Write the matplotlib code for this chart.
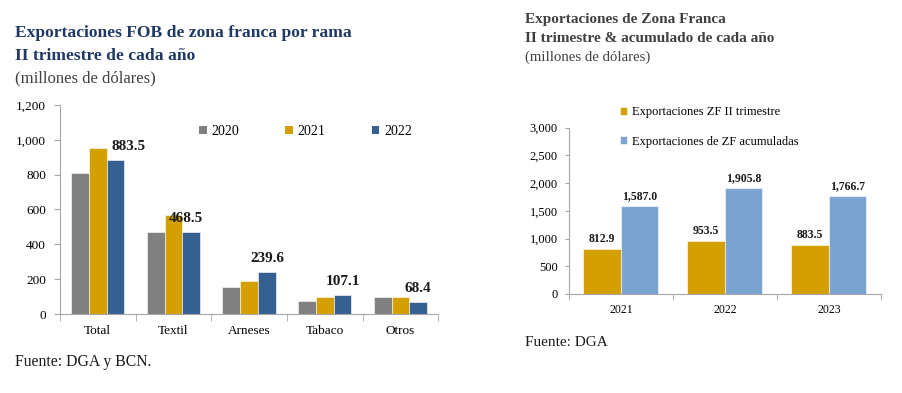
import matplotlib
matplotlib.use("Agg")
import matplotlib.pyplot as plt
import numpy as np
from matplotlib.patches import Patch

plt.rcParams['font.family'] = ['Liberation Serif', 'DejaVu Serif']

# Left chart data
ramas = ["Total", "Textil", "Arneses", "Tabaco", "Otros"]
years_left = ["2020", "2021", "2022"]
v2020 = [811.0, 468.0, 157.5, 77.0, 96.0]
v2021 = [953.5, 567.0, 190.0, 96.0, 96.0]
v2022 = [883.5, 468.5, 239.6, 107.1, 68.4]
labels_2022 = ["883.5", "468.5", "239.6", "107.1", "68.4"]
left_yticks = [0, 200, 400, 600, 800, 1000, 1200]
left_yticklabels = ["0", "200", "400", "600", "800", "1,000", "1,200"]

# Right chart data
years_right = ["2021", "2022", "2023"]
trimestre = [812.9, 953.5, 883.5]
acumulado = [1587.0, 1905.8, 1766.7]
trim_labels = ["812.9", "953.5", "883.5"]
acum_labels = ["1,587.0", "1,905.8", "1,766.7"]
right_yticks = [0, 500, 1000, 1500, 2000, 2500, 3000]
right_yticklabels = ["0", "500", "1,000", "1,500", "2,000", "2,500", "3,000"]

GRAY = "#808080"
GOLD = "#D4A000"
BLUE = "#376092"
LBLUE = "#7DA3D0"
AXC = "#A6A6A6"

fig = plt.figure(figsize=(9.03, 3.93), dpi=100)

# ---------- Left chart ----------
ax1 = fig.add_axes([0.0664, 0.201, 0.419, 0.532])
x = np.arange(len(ramas))
w = 0.235
series = [(v2020, GRAY), (v2021, GOLD), (v2022, BLUE)]
for i, (vals, c) in enumerate(series):
    ax1.bar(x + (i - 1) * w, vals, width=w, color=c, edgecolor="white", linewidth=0.4)
label_dx = [9, -4, 0, 0, 0]
for xi, v, lab, dx in zip(x, v2022, labels_2022, label_dx):
    ax1.annotate(lab, (xi + w, v), xytext=(dx, 5), textcoords="offset points",
                 ha="center", va="bottom", fontsize=11, fontweight="bold", color="#1a1a1a")
ax1.set_xlim(-0.5, len(ramas) - 0.5)
ax1.set_ylim(0, 1200)
ax1.set_yticks(left_yticks)
ax1.set_yticklabels(left_yticklabels)
ax1.set_xticks(x)
ax1.set_xticklabels(ramas)
ax1.set_xticks(np.arange(len(ramas) + 1) - 0.5, minor=True)
ax1.tick_params(axis="x", which="major", length=0, pad=8, labelsize=9.5)
ax1.tick_params(axis="x", which="minor", length=5, color=AXC, direction="out")
ax1.tick_params(axis="y", length=4, color=AXC, labelsize=9.5, pad=6)
for s in ["top", "right"]:
    ax1.spines[s].set_visible(False)
for s in ["left", "bottom"]:
    ax1.spines[s].set_color(AXC)
handles = [Patch(facecolor=c, edgecolor="none") for _, c in series]
ax1.legend(handles, years_left, ncol=3, loc="upper left", bbox_to_anchor=(0.335, 0.965),
           frameon=False, fontsize=10, handlelength=0.55, handleheight=0.55,
           handletextpad=0.35, columnspacing=3.3)

fig.text(15 / 903, 1 - 33 / 393, "Exportaciones FOB de zona franca por rama", fontsize=12.6,
         fontweight="bold", color="#1F3864", va="center", ha="left")
fig.text(15 / 903, 1 - 56 / 393, "II trimestre de cada año", fontsize=12.6,
         fontweight="bold", color="#1F3864", va="center", ha="left")
fig.text(15 / 903, 1 - 78 / 393, "(millones de dólares)", fontsize=12,
         color="#404040", va="center", ha="left")
fig.text(15 / 903, 1 - 362 / 393, "Fuente: DGA y BCN.", fontsize=11.3,
         color="#1a1a1a", va="center", ha="left")

# ---------- Right chart ----------
ax2 = fig.add_axes([0.630, 0.252, 0.3455, 0.423])
xr = np.arange(len(years_right))
wr = 0.36
ax2.bar(xr - wr / 2, trimestre, width=wr, color=GOLD, edgecolor="white", linewidth=0.4,
        label="Exportaciones ZF II trimestre")
ax2.bar(xr + wr / 2, acumulado, width=wr, color=LBLUE, edgecolor="white", linewidth=0.4,
        label="Exportaciones de ZF acumuladas")
for xi, v, lab in zip(xr, trimestre, trim_labels):
    ax2.annotate(lab, (xi - wr / 2, v), xytext=(0, 3), textcoords="offset points",
                 ha="center", va="bottom", fontsize=8.5, fontweight="bold", color="#1a1a1a")
for xi, v, lab in zip(xr, acumulado, acum_labels):
    ax2.annotate(lab, (xi + wr / 2, v), xytext=(0, 3), textcoords="offset points",
                 ha="center", va="bottom", fontsize=8.5, fontweight="bold", color="#1a1a1a")
ax2.set_xlim(-0.5, len(years_right) - 0.5)
ax2.set_ylim(0, 3000)
ax2.set_yticks(right_yticks)
ax2.set_yticklabels(right_yticklabels)
ax2.set_xticks(xr)
ax2.set_xticklabels(years_right)
ax2.set_xticks(np.arange(len(years_right) + 1) - 0.5, minor=True)
ax2.tick_params(axis="x", which="major", length=0, pad=7, labelsize=8.5)
ax2.tick_params(axis="x", which="minor", length=4, color=AXC, direction="out")
ax2.tick_params(axis="y", length=3, color=AXC, labelsize=9, pad=5)
for s in ["top", "right"]:
    ax2.spines[s].set_visible(False)
for s in ["left", "bottom"]:
    ax2.spines[s].set_color(AXC)
ax2.legend(loc="upper left", bbox_to_anchor=(620 / 903, 1 - 106 / 393),
           bbox_transform=fig.transFigure, frameon=False, fontsize=9,
           handlelength=0.6, handleheight=0.6, handletextpad=0.35, labelspacing=1.4,
           borderpad=0, borderaxespad=0)

fig.text(525 / 903, 1 - 20 / 393, "Exportaciones de Zona Franca", fontsize=11,
         fontweight="bold", color="#3F3F3F", va="center", ha="left")
fig.text(525 / 903, 1 - 38 / 393, "II trimestre & acumulado de cada año", fontsize=11,
         fontweight="bold", color="#3F3F3F", va="center", ha="left")
fig.text(525 / 903, 1 - 57 / 393, "(millones de dólares)", fontsize=10.6,
         color="#404040", va="center", ha="left")
fig.text(525 / 903, 1 - 343 / 393, "Fuente: DGA", fontsize=11,
         color="#1a1a1a", va="center", ha="left")

fig.savefig("out.png", dpi=100)
